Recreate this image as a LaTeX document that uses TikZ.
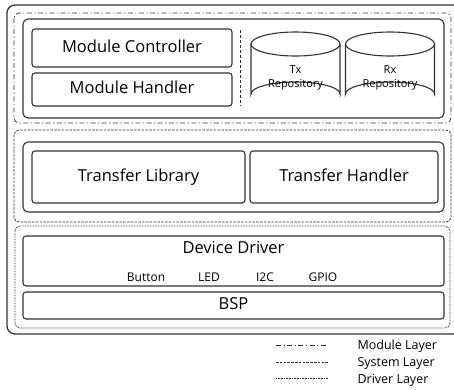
\documentclass[tikz,border=0pt]{standalone}
\usepackage{fontspec}
\setmainfont{Open Sans}
\begin{document}
\begin{tikzpicture}[x=1pt,y=-1pt,
  line color/.style={draw=black!80},
  outerbox/.style={line color,line width=1.3pt,rounded corners=8pt},
  layerbox/.style={line color,line width=0.8pt,rounded corners=5pt},
  groupbox/.style={line color,line width=1.1pt,rounded corners=5pt},
  blockbox/.style={line color,line width=1.1pt,rounded corners=3pt},
  moddash/.style={dash pattern=on 5pt off 2.5pt on 1.2pt off 2.5pt},
  sysdash/.style={dash pattern=on 2.6pt off 1.2pt},
  drvdot/.style={dash pattern=on 0.8pt off 0.8pt},
  bigtxt/.style={font=\fontsize{16.5}{18}\selectfont,text height=12pt,text depth=3.5pt},
  smalltxt/.style={font=\fontsize{12}{14}\selectfont},
  reptxt/.style={font=\fontsize{11}{14}\selectfont,align=center},
  legtxt/.style={font=\fontsize{12.5}{14}\selectfont,anchor=west}
]
\useasboundingbox (0,0) rectangle (454,389);

% outer frame (runs past the right border)
\draw[outerbox] (7,5) rectangle (462,334);

% ---- Module layer ----
\draw[layerbox,moddash] (14,13) rectangle (451,123);
\draw[groupbox] (23,19) rectangle (444,118);
\node[blockbox,draw,minimum width=200,minimum height=38,bigtxt] (mc) at (132,48) {Module Controller};
\node[blockbox,draw,minimum width=200,minimum height=33,bigtxt] (mh) at (132,89.5) {Module Handler};
\coordinate (sepT) at (240,30);
\coordinate (sepB) at (240,106);
\draw[line color,line width=0.9pt,dash pattern=on 3pt off 2pt] (sepT) -- (sepB);

% repositories
\foreach \cx/\nm/\lbl in {295.5/tx/Tx, 390/rx/Rx}{
  \draw[line color,line width=1.1pt]
    (\cx-44.5,44) -- (\cx-44.5,94) arc[start angle=180,end angle=360,x radius=44.5,y radius=12]
    -- (\cx+44.5,44);
  \draw[line color,line width=1.1pt] (\cx,44) ellipse[x radius=44.5,y radius=12];
  \node[reptxt] (\nm) at (\cx,77.5) {\lbl\\Repository};
}

% ---- System layer ----
\draw[layerbox,sysdash] (14,130) rectangle (451,222);
\draw[groupbox] (23,142) rectangle (444,212);
\node[blockbox,draw,minimum width=213,minimum height=52,bigtxt] (tl) at (138.5,177) {Transfer Library};
\node[blockbox,draw,minimum width=188,minimum height=52,bigtxt] (th) at (344,177) {Transfer Handler};

% ---- Driver layer ----
\draw[layerbox,drvdot] (15,226) rectangle (450,328);
\node[blockbox,draw,minimum width=421,minimum height=50] (dd) at (233.5,261) {};
\node[bigtxt] (ddl) at (233.5,249) {Device Driver};
\node[smalltxt] (btn) at (146,277) {Button};
\node[smalltxt] (led) at (209,277) {LED};
\node[smalltxt] (i2c) at (265,277) {I2C};
\node[smalltxt] (gpio) at (323,277) {GPIO};
\node[blockbox,draw,minimum width=421,minimum height=27,bigtxt] (bsp) at (233.5,305.5) {BSP};

% ---- legend ----
\coordinate (l1a) at (276,345); \coordinate (l1b) at (328,345);
\coordinate (l2a) at (276,362); \coordinate (l2b) at (328,362);
\coordinate (l3a) at (276,378); \coordinate (l3b) at (328,378);
\draw[line color,line width=0.8pt,moddash] (l1a) -- (l1b);
\draw[line color,line width=0.8pt,sysdash] (l2a) -- (l2b);
\draw[line color,line width=0.8pt,drvdot] (l3a) -- (l3b);
\node[legtxt] (lm) at (354,346) {Module Layer};
\node[legtxt] (ls) at (354,363) {System Layer};
\node[legtxt] (ld) at (354,380) {Driver Layer};
\end{tikzpicture}
\end{document}
